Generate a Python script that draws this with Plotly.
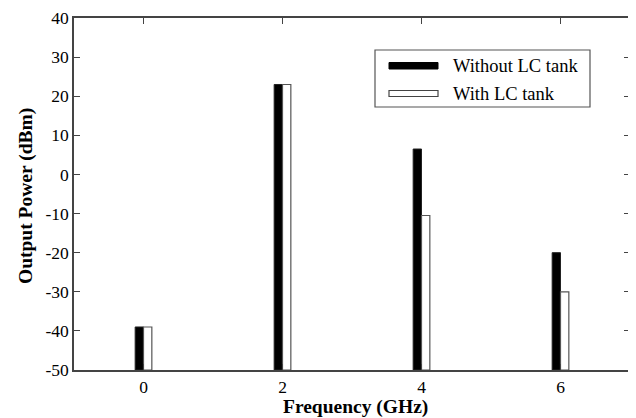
import plotly.graph_objects as go

freq = [0, 2, 4, 6]
without_lc = [-39, 23, 6.5, -20]
with_lc = [-39, 23, -10.5, -30]
base_level = -50
y_ticks = [40, 30, 20, 10, 0, -10, -20, -30, -40, -50]
x_ticks = [0, 2, 4, 6]

FONT = "Liberation Serif, Times New Roman, serif"
OFF = 8  # page body margin
W, H = 636 - OFF, 418 - OFF
# plot area in window pixels: x 74..630, y 18..370
L = 74 - OFF
T = 18 - OFF
R = W - (630 - OFF)
B = H - (370 - OFF)
pw, ph = W - L - R, H - T - B

def px(x):
    return (x - OFF - L) / pw

def py(y):
    return 1 - (y - OFF - T) / ph

fig = go.Figure()
fig.add_trace(go.Bar(
    x=freq, y=[v - base_level for v in without_lc], base=base_level,
    width=0.12, offset=-0.12, marker=dict(color="black", line=dict(color="#222", width=1)),
    name="Without LC tank", showlegend=False))
fig.add_trace(go.Bar(
    x=freq, y=[v - base_level for v in with_lc], base=base_level,
    width=0.12, offset=0.0, marker=dict(color="white", line=dict(color="#555", width=1.2)),
    name="With LC tank", showlegend=False))

shapes = [
    dict(type="rect", xref="paper", yref="paper", x0=px(375), x1=px(590), y0=py(107), y1=py(50),
         line=dict(color="#555", width=1.2), fillcolor="white", layer="above"),
    dict(type="rect", xref="paper", yref="paper", x0=px(389), x1=px(438), y0=py(69), y1=py(62.5),
         line=dict(color="black", width=1), fillcolor="black", layer="above"),
    dict(type="rect", xref="paper", yref="paper", x0=px(389), x1=px(438), y0=py(96.5), y1=py(90.5),
         line=dict(color="#444", width=1.2), fillcolor="white", layer="above"),
]
annotations = [
    dict(xref="paper", yref="paper", x=px(451), y=py(66), text="Without LC tank", showarrow=False,
         xanchor="left", yanchor="middle", font=dict(family=FONT, size=18.5, color="black")),
    dict(xref="paper", yref="paper", x=px(451), y=py(93.5), text="With LC tank", showarrow=False,
         xanchor="left", yanchor="middle", font=dict(family=FONT, size=18.5, color="black")),
    dict(xref="paper", yref="paper", x=px(355), y=py(406.5), text="<b>Frequency (GHz)</b>", showarrow=False,
         xanchor="center", yanchor="middle", font=dict(family=FONT, size=19.5, color="black")),
    dict(xref="paper", yref="paper", x=px(26), y=py(196), text="<b>Output Power (dBm)</b>", showarrow=False,
         textangle=-90, xanchor="center", yanchor="middle", font=dict(family=FONT, size=19.5, color="black")),
]

axis_common = dict(showline=True, linecolor="#444", linewidth=1.5, mirror="ticks",
                   ticks="inside", ticklen=6, tickcolor="#444", tickwidth=1.2,
                   showgrid=False, zeroline=False, automargin=False,
                   tickfont=dict(family=FONT, size=17.5, color="black"))

fig.update_layout(
    width=W, height=H,
    margin=dict(l=L, r=R, t=T, b=B, autoexpand=False),
    paper_bgcolor="white", plot_bgcolor="white",
    barmode="overlay",
    shapes=shapes, annotations=annotations,
    xaxis=dict(range=[-1, 7], tickvals=x_ticks, ticktext=[str(t) for t in x_ticks], **axis_common),
    yaxis=dict(range=[-50, 40], tickvals=y_ticks, ticktext=[str(t) for t in y_ticks], **axis_common),
)

fig.write_html("out.html")
